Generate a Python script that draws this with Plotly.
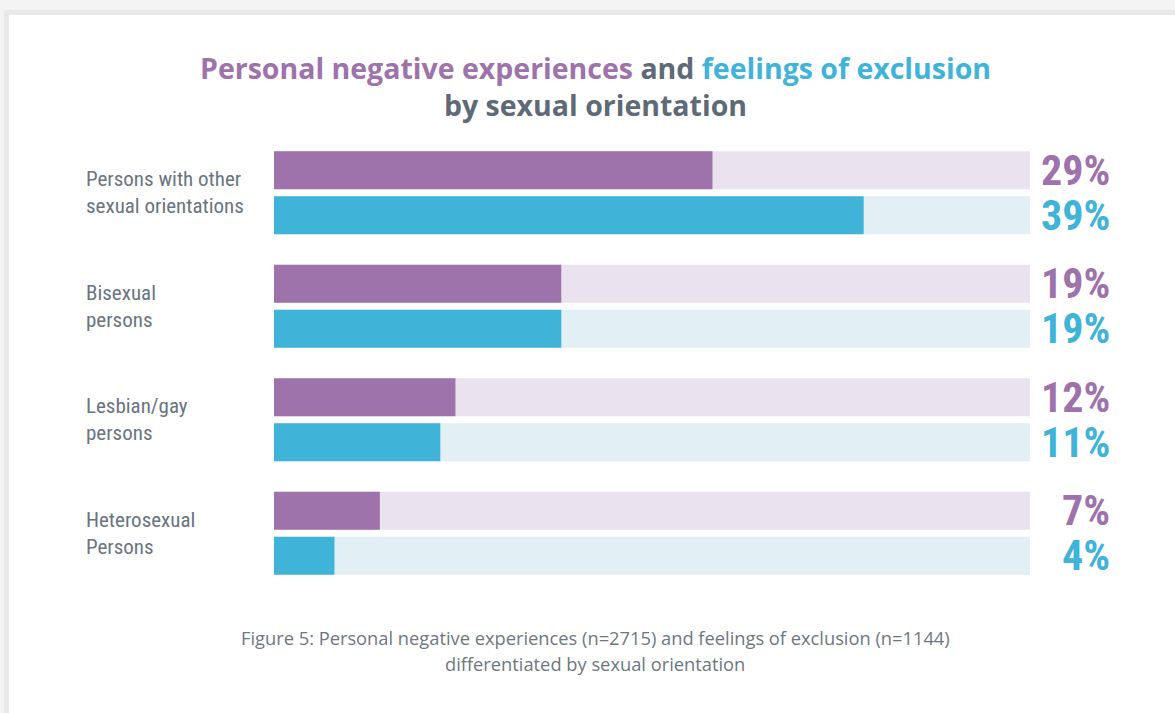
import plotly.graph_objects as go

categories = ["Persons with other<br>sexual orientations", "Bisexual<br>persons",
              "Lesbian/gay<br>persons", "Heterosexual<br>Persons"]
negative = [29, 19, 12, 7]
exclusion = [39, 19, 11, 4]
scale_max = 50

PURPLE = "#9E72AA"
CYAN = "#40B3D9"
PURPLE_BG = "#EAE2EE"
CYAN_BG = "#E2EFF5"
GRAY = "#5E6A75"
LABEL_GRAY = "#6A7480"

OFF = 0.198
W = 0.335
idx = list(range(len(categories)))
y_neg = [i - OFF for i in idx]
y_exc = [i + OFF for i in idx]

COND = "Roboto Condensed, Liberation Sans Narrow, DejaVu Sans Condensed, Roboto, sans-serif"
GEO = "Open Sans, Lato, sans-serif"

fig = go.Figure()
fig.add_trace(go.Bar(orientation="h", x=[scale_max] * len(idx), y=y_neg, width=W,
                     marker=dict(color=PURPLE_BG, line=dict(width=0)), hoverinfo="skip"))
fig.add_trace(go.Bar(orientation="h", x=[scale_max] * len(idx), y=y_exc, width=W,
                     marker=dict(color=CYAN_BG, line=dict(width=0)), hoverinfo="skip"))
fig.add_trace(go.Bar(orientation="h", x=negative, y=y_neg, width=W,
                     marker=dict(color=PURPLE, line=dict(width=0))))
fig.add_trace(go.Bar(orientation="h", x=exclusion, y=y_exc, width=W,
                     marker=dict(color=CYAN, line=dict(width=0))))

L, R, T, B = 274, 145, 136, 123
PW = 1175 - L - R
PH = 713 - T - B

def px_x(px):
    return (px - L) / PW

def px_y(py):
    return (713 - B - py) / PH

annotations = []
for i, cat in enumerate(categories):
    annotations.append(dict(xref="paper", yref="y", x=px_x(84), y=i, text=cat,
                            xanchor="left", yanchor="middle", align="left", showarrow=False,
                            font=dict(family=COND, size=21, color=LABEL_GRAY)))
    annotations.append(dict(xref="paper", yref="y", x=px_x(1112), y=y_neg[i],
                            text=f"<b>{negative[i]}%</b>", xanchor="right", yanchor="middle",
                            showarrow=False, font=dict(family=COND, size=42, color=PURPLE)))
    annotations.append(dict(xref="paper", yref="y", x=px_x(1112), y=y_exc[i],
                            text=f"<b>{exclusion[i]}%</b>", xanchor="right", yanchor="middle",
                            showarrow=False, font=dict(family=COND, size=42, color=CYAN)))

title_text = (f"<b><span style='color:{PURPLE}'>Personal negative experiences</span> "
              f"<span style='color:{GRAY}'>and</span> "
              f"<span style='color:{CYAN}'>feelings of exclusion</span><br>"
              f"by sexual orientation</b>")
annotations.append(dict(xref="paper", yref="paper", x=px_x(595), y=px_y(87), text=title_text,
                        xanchor="center", yanchor="middle", showarrow=False, align="center",
                        font=dict(family=GEO, size=28.5, color=GRAY)))
annotations.append(dict(xref="paper", yref="paper", x=px_x(595), y=px_y(637),
                        text="Figure 5: Personal negative experiences (n=2715) and feelings of exclusion (n=1144)",
                        xanchor="center", yanchor="middle", showarrow=False,
                        font=dict(family=GEO, size=18.3, color="#6E7781")))
annotations.append(dict(xref="paper", yref="paper", x=px_x(595), y=px_y(663),
                        text="differentiated by sexual orientation",
                        xanchor="center", yanchor="middle", showarrow=False,
                        font=dict(family=GEO, size=18.3, color="#6E7781")))

shapes = [
    dict(type="rect", xref="paper", yref="paper", x0=px_x(4), x1=px_x(1180), y0=px_y(720), y1=px_y(10),
         fillcolor="#E8E9EB", line=dict(width=0), layer="below"),
    dict(type="rect", xref="paper", yref="paper", x0=px_x(9), x1=px_x(1180), y0=px_y(720), y1=px_y(15),
         fillcolor="#FFFFFF", line=dict(width=0), layer="below"),
]

fig.update_layout(
    width=1175, height=713,
    margin=dict(l=L, r=R, t=T, b=B),
    paper_bgcolor="#F4F4F5", plot_bgcolor="rgba(0,0,0,0)",
    barmode="overlay", showlegend=False,
    xaxis=dict(range=[0, scale_max], visible=False, fixedrange=True),
    yaxis=dict(range=[len(idx) - 0.5, -0.5], visible=False, fixedrange=True),
    annotations=annotations, shapes=shapes,
)

fig.write_html("out.html", config={"displayModeBar": False},
               post_script="document.body.style.margin='0';document.body.style.overflow='hidden';")
